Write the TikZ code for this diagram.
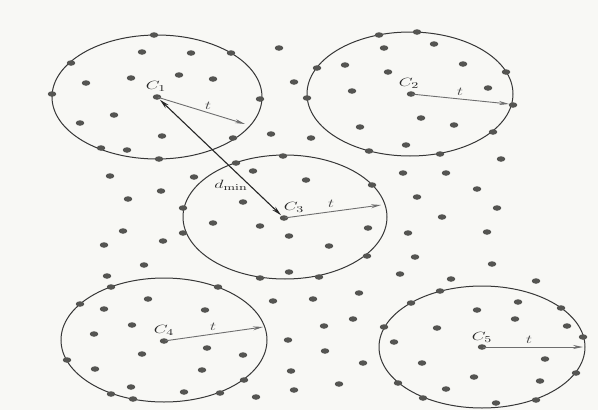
\documentclass[tikz,border=0pt]{standalone}
\usepackage{amsmath}
\usetikzlibrary{shapes.geometric,arrows.meta}
\definecolor{bgc}{RGB}{248,248,245}
\definecolor{dotc}{RGB}{85,85,82}
\definecolor{ringc}{RGB}{55,55,55}
\definecolor{tarc}{RGB}{110,110,110}
\tikzset{
  dot/.style={ellipse,fill=dotc,draw=none,minimum width=8.5pt,minimum height=5.5pt,inner sep=0pt},
  ring/.style={draw=ringc,line width=1pt},
  tarrow/.style={draw=tarc,line width=0.9pt,-{Stealth[length=10pt,width=4pt]},shorten <=1pt},
  darrow/.style={draw=black!85,line width=1.1pt,{Stealth[length=10pt,width=4.5pt]}-{Stealth[length=10pt,width=4.5pt]},shorten <=4pt,shorten >=4pt},
  lab/.style={inner sep=0pt,font=\fontsize{13}{15}\selectfont,text=black!85},
  tlab/.style={inner sep=0pt,font=\fontsize{11.5}{13}\selectfont,text=black!70}
}
\newcommand{\xs}[1]{\scalebox{1.5}[1]{#1}}
\begin{document}
\begin{tikzpicture}[x=1pt,y=-1pt]
\fill[bgc] (0,0) rectangle (598,410);
\useasboundingbox (0,0) rectangle (598,410);
% centres
\node[dot] (C1) at (157,97) {};
\node[dot] (C2) at (411,94) {};
\node[dot] (C3) at (284,218) {};
\node[dot] (C4) at (164,341) {};
\node[dot] (C5) at (482,347) {};
% spheres
\draw[ring] (157,97) ellipse [x radius=105, y radius=62];
\draw[ring] (410,94) ellipse [x radius=103, y radius=62];
\draw[ring] (285,217) ellipse [x radius=102, y radius=62];
\draw[ring] (164,340) ellipse [x radius=103, y radius=62];
\draw[ring] (482,347) ellipse [x radius=103, y radius=61];
% other points
\foreach \px/\py [count=\i] in {
154/35,142/52,191/53,231/53,279/48,71/63,131/78,179/75,213/79,294/82,86/83,52/94,
260/99,114/115,80/123,162/136,271/134,233/138,101/148,127/150,159/159,283/156,236/163,
253/171,110/176,194/177,161/191,128/199,243/202,
379/35,417/32,384/48,434/44,345/65,317/68,388/72,463/64,506/72,488/88,352/91,307/98,
513/105,421/118,360/127,454/125,311/138,493/132,406/145,369/151,440/154,501/159,
403/173,446/173,306/180,372/185,477/189,417/197,
213/223,260/226,368/228,289/236,329/246,367/256,289/272,260/278,319/277,183/208,183/233,
497/208,442/217,408/233,487/232,415/257,492/264,400/274,451/279,536/281,
218/287,273/301,313/299,359/293,205/310,353/319,324/326,288/340,207/348,243/355,
325/351,202/370,291/371,363/363,244/380,294/390,339/384,256/397,220/393,
123/231,104/245,163/241,144/265,107/276,111/287,80/304,148/299,104/309,132/325,
94/334,142/354,67/360,95/369,131/387,184/392,111/394,133/399,
440/291,411/303,518/302,477/310,561/308,515/319,437/328,567/326,583/337,545/359,
422/363,576/373,474/377,540/381,446/389,423/398,536/400,496/403,384/327,394/342,398/383}
  \node[dot] (p\i) at (\px,\py) {};
% arrow ends
\coordinate (e1) at (245,124);
\coordinate (e2) at (509,104);
\coordinate (e3) at (381,205);
\coordinate (e4) at (263,327);
\coordinate (e5) at (583,347);
\draw[tarrow] (C1.center) -- (e1);
\draw[tarrow] (C2.center) -- (e2);
\draw[tarrow] (C3.center) -- (e3);
\draw[tarrow] (C4.center) -- (e4);
\draw[tarrow] (C5.center) -- (e5);
\draw[darrow] (C1.center) -- (C3.center);
% labels
\node[lab] (l1) at (156,86) {\xs{$C_1$}};
\node[lab] (l2) at (409,83) {\xs{$C_2$}};
\node[lab] (l3) at (294,207) {\xs{$C_3$}};
\node[lab] (l4) at (164,330) {\xs{$C_4$}};
\node[lab] (l5) at (482,337) {\xs{$C_5$}};
\node[tlab] (t1) at (208,106) {\xs{$t$}};
\node[tlab] (t2) at (460,92) {\xs{$t$}};
\node[tlab] (t3) at (331,204) {\xs{$t$}};
\node[tlab] (t4) at (213,327) {\xs{$t$}};
\node[tlab] (t5) at (529,340) {\xs{$t$}};
\node[lab] (dm) at (231,185) {\xs{$d_{\min}$}};
\end{tikzpicture}
\end{document}
